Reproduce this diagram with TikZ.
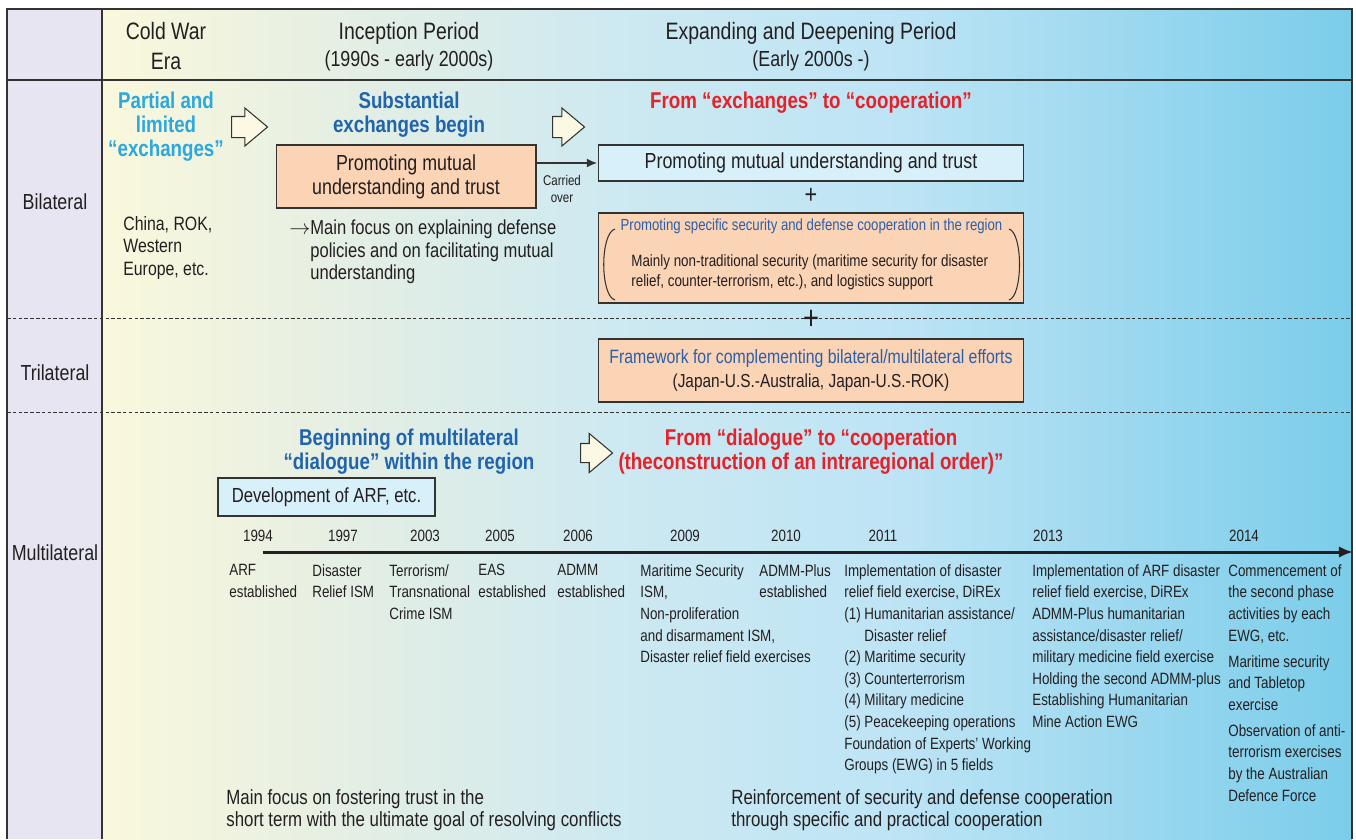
\documentclass[tikz,border=0pt]{standalone}
\usepackage{fontspec}
\setmainfont{Liberation Sans}[FakeStretch=0.82]
\usetikzlibrary{arrows.meta,shapes.arrows}

\definecolor{lavender}{HTML}{E7E5F1}
\definecolor{bgyellow}{HTML}{FAF8DC}
\definecolor{bggreen}{HTML}{E6EFE3}
\definecolor{bgpale}{HTML}{CDE9F1}
\definecolor{bglight}{HTML}{BDE4F5}
\definecolor{bgsky}{HTML}{7BCDEA}
\definecolor{peach}{HTML}{FBD3B5}
\definecolor{iceblue}{HTML}{D8F0FA}
\definecolor{cyantitle}{HTML}{2BA8E0}
\definecolor{bluetitle}{HTML}{1F64AD}
\definecolor{redtitle}{HTML}{E62129}
\definecolor{bluetext}{HTML}{2A5FAC}
\definecolor{arrowcream}{HTML}{FBF9E4}
\definecolor{inkgray}{HTML}{231F20}
\definecolor{framegray}{HTML}{333333}

\newcommand{\fsz}[2]{\fontsize{#1}{#2}\selectfont}

\tikzset{
  headtext/.style={font=\fsz{13.5}{17}, align=center},
  subhead/.style={font=\fsz{12.4}{14}, anchor=base},
  rowlabel/.style={font=\fsz{12.4}{14}, anchor=base},
  bigtitle/.style={font=\bfseries\fsz{13}{13.6}, align=center, anchor=north, inner sep=0pt},
  boxtext/.style={font=\fsz{12.4}{13.6}, align=center},
  peachbox/.style={draw=framegray, fill=peach, line width=0.6pt},
  icebox/.style={draw=framegray, fill=iceblue, line width=0.6pt},
  smalltext/.style={font=\fsz{9.3}{12.3}, align=left, anchor=north west, inner sep=0pt},
  notetext/.style={font=\fsz{11.5}{12.6}, align=left, anchor=north west, inner sep=0pt},
  yeartext/.style={font=\fsz{9.3}{11}, anchor=base},
  blockarrow/.style={single arrow, draw=framegray, fill=arrowcream, line width=0.6pt,
    inner xsep=0pt, anchor=tail},
  dashline/.style={framegray, line width=0.5pt, dash pattern=on 2pt off 1.3pt},
}

\begin{document}
\begin{tikzpicture}[x=0.02cm, y=-0.02cm, text=inkgray]
  \useasboundingbox (0,0) rectangle (1356,839);
  % background of the table
  \fill[lavender] (7,9) rectangle (102,839);
  \shade[left color=bgyellow, right color=bggreen] (102,9) rectangle (331,839);
  \shade[left color=bggreen, right color=bgpale] (330,9) rectangle (621,839);
  \shade[left color=bgpale, right color=bglight] (620,9) rectangle (901,839);
  \shade[left color=bglight, right color=bgsky] (900,9) rectangle (1352,839);
  \begin{scope}[framegray, line width=0.7pt]
    \draw (7,839) -- (7,9) -- (1352,9) -- (1352,839);
    \draw (102,9) -- (102,839);
    \draw (7,80) -- (1352,80);
  \end{scope}
  \draw[dashline] (7,318) -- (1352,318);
  \draw[dashline] (7,412) -- (1352,412);

  % header
  \node[headtext] (coldwar) at (166,46) {Cold War\\Era};
  \node[headtext, anchor=base] (inception) at (409,39) {Inception Period};
  \node[subhead] (incyears) at (409,66) {(1990s - early 2000s)};
  \node[headtext, anchor=base] (expanding) at (811,39) {Expanding and Deepening Period};
  \node[subhead] (expyears) at (811,66) {(Early 2000s -)};

  % row labels
  \node[rowlabel] (bilateral) at (55,209) {Bilateral};
  \node[rowlabel] (trilateral) at (55,380) {Trilateral};
  \node[rowlabel] (multilateral) at (55,560) {Multilateral};

  % bilateral
  \node[bigtitle, text=cyantitle] (partial) at (166,92) {Partial and\\limited\\“exchanges”};
  \node[bigtitle, text=bluetitle] (substantial) at (409,92) {Substantial\\exchanges begin};
  \node[bigtitle, text=redtitle] (fromexch) at (811,92) {From “exchanges” to “cooperation”};
  \node[blockarrow, minimum height=0.72cm, inner ysep=0.2cm,
    single arrow head extend=0.17cm, single arrow tip angle=80] (arr1) at (231,127) {};
  \node[blockarrow, minimum height=0.64cm, inner ysep=0.2cm,
    single arrow head extend=0.17cm, single arrow tip angle=80] (arr2) at (552,127) {};
  \node[notetext, font=\fsz{11}{12.8}] (countries) at (123,216) {China, ROK,\\Western\\Europe, etc.};
  \node[peachbox, boxtext, minimum width=5.2cm, minimum height=1.26cm] (mutual) at (406,176.5)
    {Promoting mutual\\understanding and trust};
  \node[notetext] (focus) at (310,220) {\llap{$\rightarrow$}Main focus on explaining defense\\policies and on facilitating mutual\\understanding};
  \node[icebox, boxtext, minimum width=8.52cm, minimum height=0.72cm] (trust) at (811,163)
    {Promoting mutual understanding and trust};
  \draw[framegray, line width=1.3pt, -{Latex[length=6pt,width=5pt]}] (mutual.east |- trust.west) -- (trust.west);
  \node[font=\fsz{8}{9.6}, align=center] (carried) at (562,189) {Carried\\over};
  \node[font=\fsz{15}{15}] (plusone) at (811,196) {+};
  \node[peachbox, minimum width=8.52cm, minimum height=1.8cm] (specbox) at (811,258) {};
  \node[font=\fsz{9.15}{11}, text=bluetext] (spectitle) at (811.5,226)
    {Promoting specific security and defense cooperation in the region};
  \node[smalltext, font=\fsz{9.3}{11.3}] (specbody) at (631,254)
    {Mainly non-traditional security (maritime security for disaster\\relief, counter-terrorism, etc.), and logistics support};
  \draw[framegray, line width=0.6pt] (615,229) .. controls (600,233) and (600,296) .. (615,300);
  \draw[framegray, line width=0.6pt] (1009,229) .. controls (1023,233) and (1023,296) .. (1009,300);
  \node[font=\fsz{19}{19}] (plustwo) at (811,320) {+};

  % trilateral
  \node[peachbox, font=\fsz{10.7}{13.6}, align=center, minimum width=8.52cm, minimum height=1.26cm] (framework) at (811,370.5)
    {\textcolor{bluetext}{\fontsize{11}{13.6}\selectfont Framework for complementing bilateral/multilateral efforts}\\(Japan-U.S.-Australia, Japan-U.S.-ROK)};

  % multilateral
  \node[bigtitle, text=bluetitle] (beginning) at (409,429) {Beginning of multilateral\\“dialogue” within the region};
  \node[blockarrow, minimum height=0.64cm, inner ysep=0.18cm,
    single arrow head extend=0.2cm, single arrow tip angle=80] (arr3) at (580,453) {};
  \node[bigtitle, text=redtitle] (fromdial) at (811,429) {From “dialogue” to “cooperation\\(theconstruction of an intraregional order)”};
  \node[icebox, boxtext, font=\fsz{11.6}{13}, minimum width=4.34cm, minimum height=0.76cm] (arf) at (326.5,497)
    {Development of ARF, etc.};

  \coordinate (tlstart) at (263,552);
  \coordinate (tlend) at (1353,552);
  \draw[inkgray, line width=1.7pt, -{Latex[length=8pt,width=6.5pt]}] (tlstart) -- (tlend);

  \node[yeartext] (y1994) at (258,541) {1994};
  \node[yeartext] (y1997) at (343,541) {1997};
  \node[yeartext] (y2003) at (425,541) {2003};
  \node[yeartext] (y2005) at (500,541) {2005};
  \node[yeartext] (y2006) at (578,541) {2006};
  \node[yeartext] (y2009) at (685,541) {2009};
  \node[yeartext] (y2010) at (786,541) {2010};
  \node[yeartext] (y2011) at (883,541) {2011};
  \node[yeartext] (y2013) at (1048,541) {2013};
  \node[yeartext] (y2014) at (1244,541) {2014};

  \node[smalltext] (ev1994) at (229,564) {ARF\\established};
  \node[smalltext] (ev1997) at (312,564) {Disaster\\Relief ISM};
  \node[smalltext] (ev2003) at (389,564) {Terrorism/\\Transnational\\Crime ISM};
  \node[smalltext] (ev2005) at (478,564) {EAS\\established};
  \node[smalltext] (ev2006) at (557,564) {ADMM\\established};
  \node[smalltext] (ev2009) at (640,564) {Maritime Security\\ISM,\\Non-proliferation\\and disarmament ISM,\\Disaster relief field exercises};
  \node[smalltext] (ev2010) at (759,564) {ADMM-Plus\\established};
  \node[smalltext] (ev2011) at (844,564) {Implementation of disaster\\relief field exercise, DiREx\\(1) Humanitarian assistance/\\\phantom{(1) }Disaster relief\\(2) Maritime security\\(3) Counterterrorism\\(4) Military medicine\\(5) Peacekeeping operations\\Foundation of Experts’ Working\\Groups (EWG) in 5 fields};
  \node[smalltext] (ev2013) at (1032,564) {Implementation of ARF disaster\\relief field exercise, DiREx\\ADMM-Plus humanitarian\\assistance/disaster relief/\\military medicine field exercise\\Holding the second ADMM-plus\\Establishing Humanitarian\\Mine Action EWG};
  \node[smalltext] (ev2014) at (1228,564) {Commencement of\\the second phase\\activities by each\\EWG, etc.\\[2.5pt]Maritime security\\and Tabletop\\exercise\\[2.5pt]Observation of anti-\\terrorism exercises\\by the Australian\\Defence Force};

  \node[notetext, font=\fsz{11.7}{12.5}] (shortterm) at (226,789)
    {Main focus on fostering trust in the\\short term with the ultimate goal of resolving conflicts};
  \node[notetext, font=\fsz{11.7}{12.5}] (reinforce) at (731,789)
    {Reinforcement of security and defense cooperation\\through specific and practical cooperation};
\end{tikzpicture}
\end{document}
